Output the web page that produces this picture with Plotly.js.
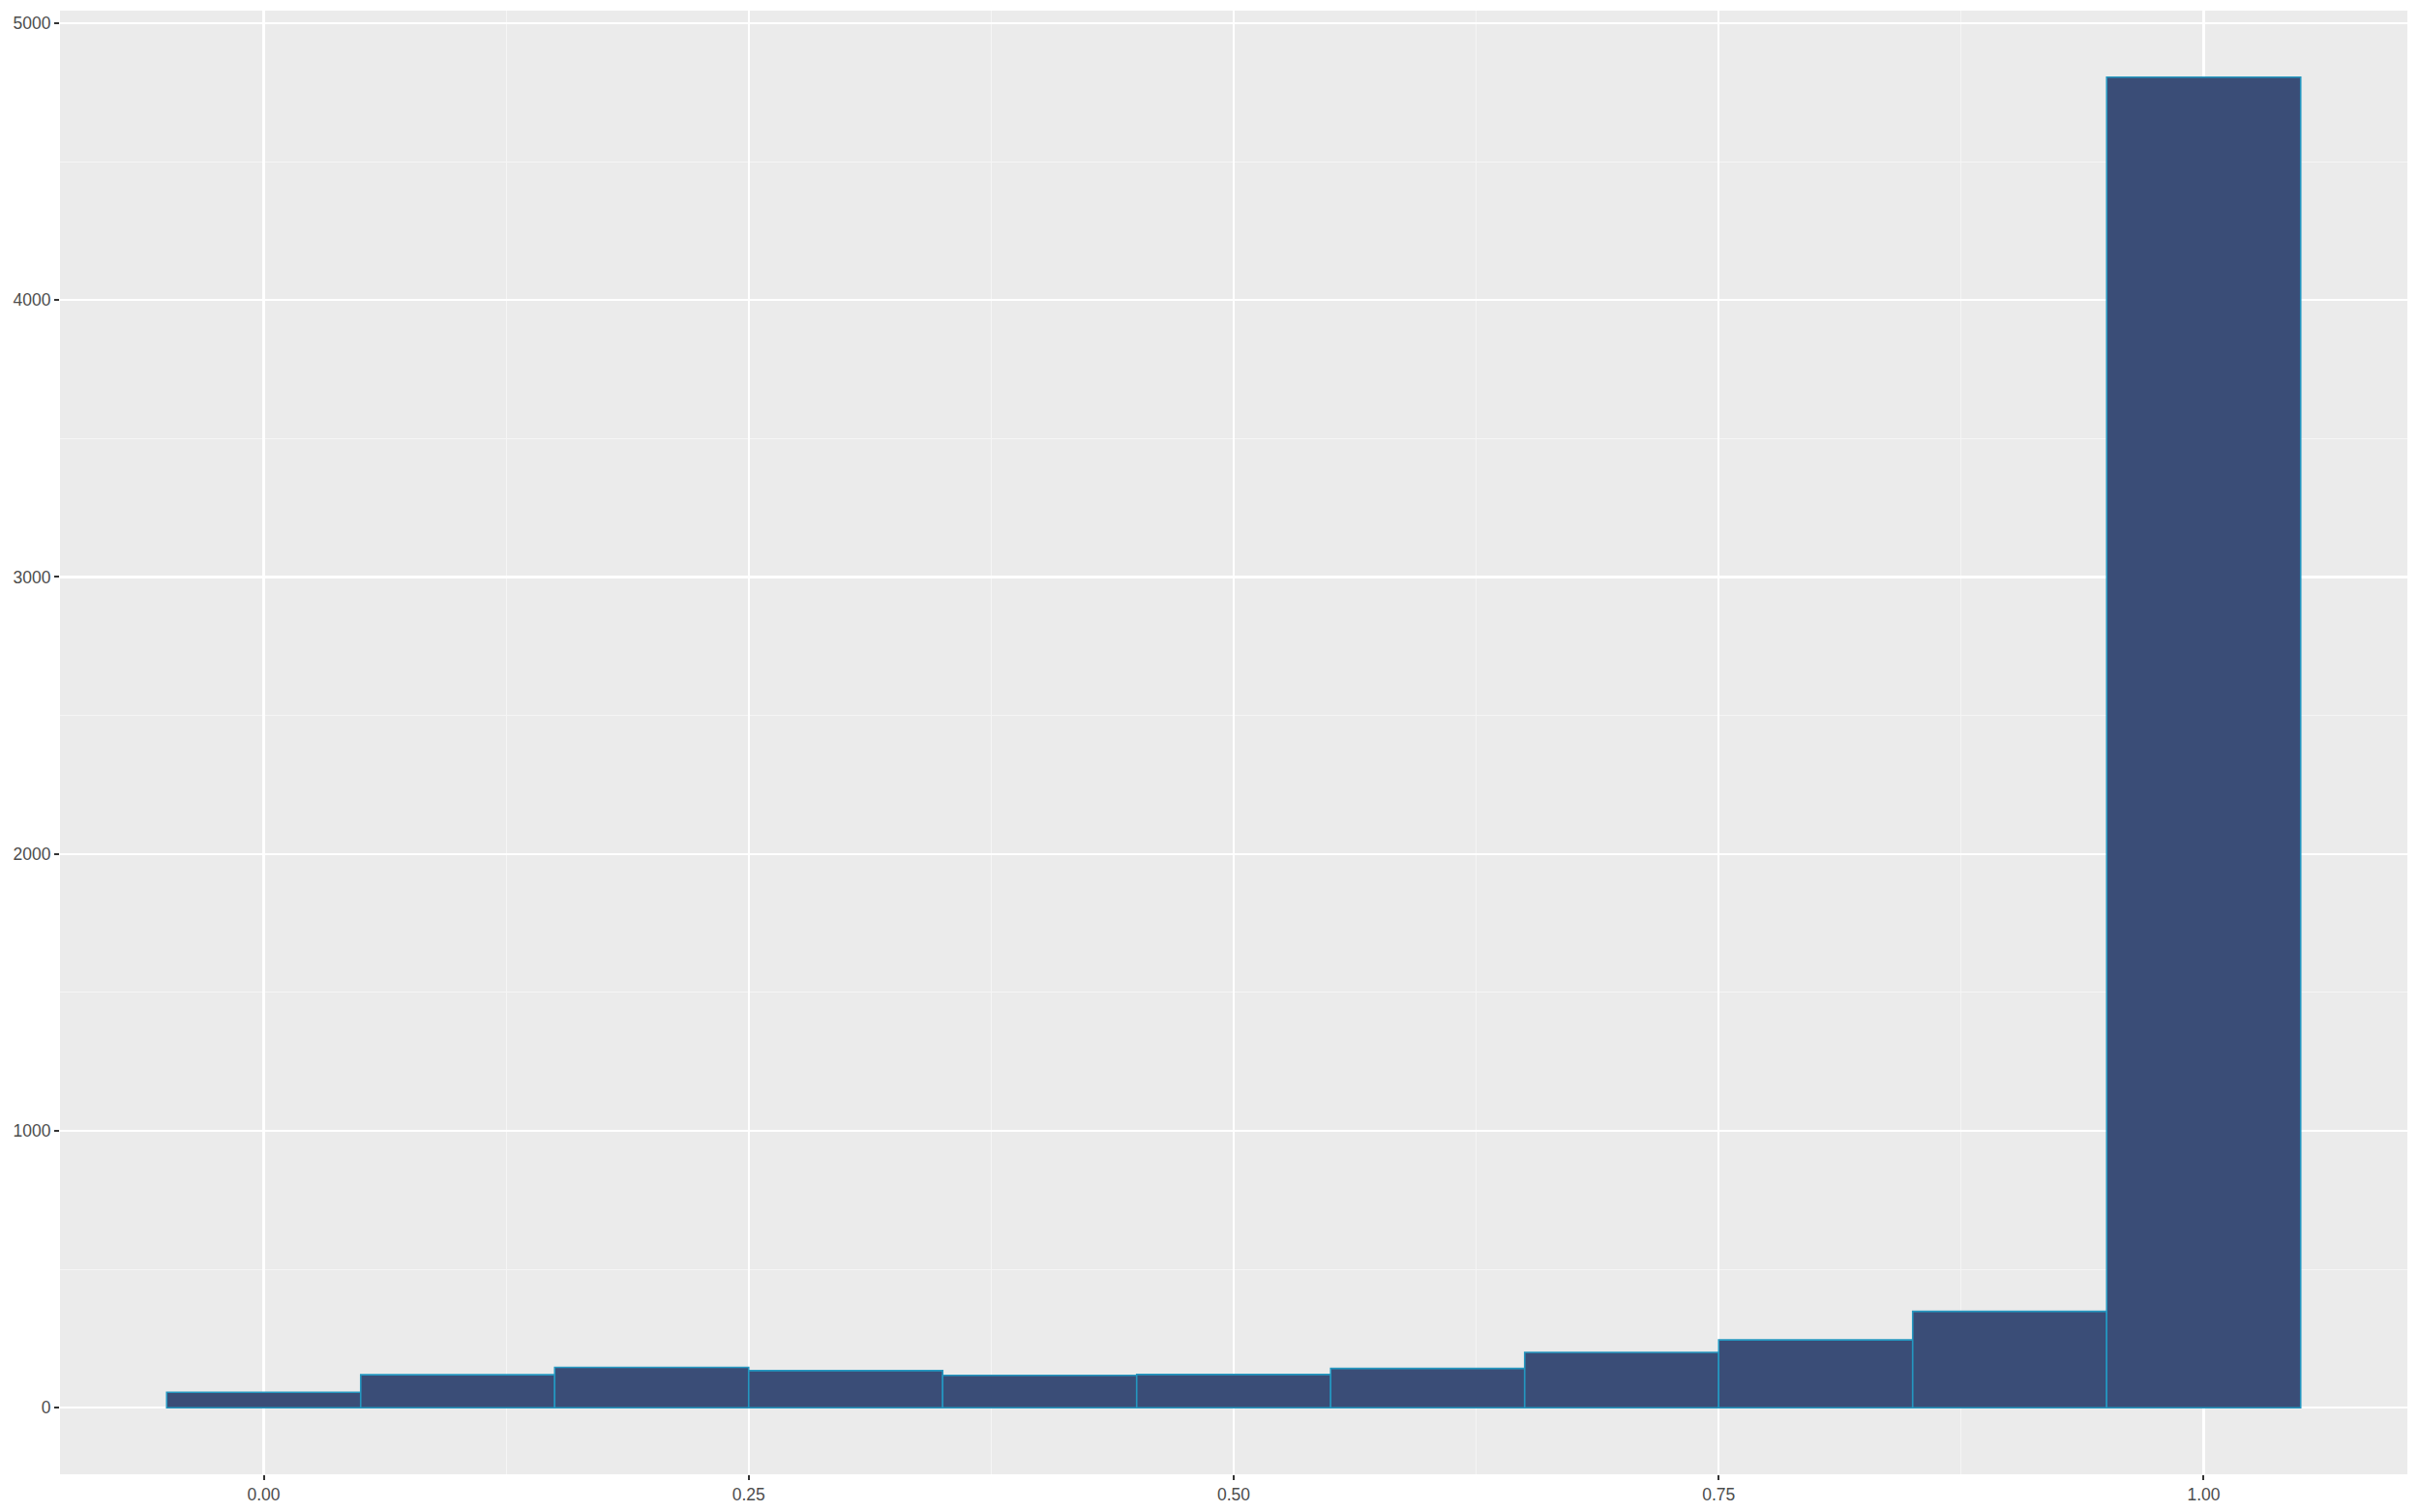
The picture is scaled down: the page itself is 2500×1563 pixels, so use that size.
<!DOCTYPE html>
<html>
<head>
<meta charset="utf-8">
<script src="https://cdn.plot.ly/plotly-3.0.1.min.js"></script>
<style>html,body{margin:0;padding:0;background:#fff;}#chart{width:2500px;height:1563px;}</style>
</head>
<body>
<div id="chart"></div>
<script>
// Histogram bins (centers) and counts
var binCenters = [0.0, 0.1, 0.2, 0.3, 0.4, 0.5, 0.6, 0.7, 0.8, 0.9, 1.0];
var counts = [56, 119, 146, 134, 117, 120, 142, 200, 245, 348, 4805];
var binWidth = 0.1;
var xTickVals = [0, 0.25, 0.5, 0.75, 1.0];
var xTickText = ["0.00", "0.25", "0.50", "0.75", "1.00"];
var yTickVals = [0, 1000, 2000, 3000, 4000, 5000];
var yTickText = ["0", "1000", "2000", "3000", "4000", "5000"];

var widths = binCenters.map(function(){ return binWidth; });
var ymax = Math.max.apply(null, counts);
var xmin = binCenters[0] - binWidth/2, xmax = binCenters[binCenters.length-1] + binWidth/2;
var xpad = (xmax - xmin) * 0.05, ypad = ymax * 0.05;

var trace = {
  type: 'bar',
  x: binCenters,
  y: counts,
  width: widths,
  marker: {color: '#3a4d77', line: {color: '#2497c0', width: 1.6}},
  hoverinfo: 'x+y'
};

var axisCommon = {
  showline: false,
  zeroline: false,
  ticks: 'outside',
  ticklen: 5,
  tickwidth: 2,
  tickcolor: '#333333',
  tickfont: {family: 'Liberation Sans, Arial, sans-serif', size: 17.5, color: '#4d4d4d'},
  showgrid: true,
  gridcolor: '#ffffff',
  gridwidth: 2.2
};

var layout = {
  width: 2500,
  height: 1563,
  margin: {l: 62, r: 12, t: 11, b: 39, pad: 0},
  paper_bgcolor: '#ffffff',
  plot_bgcolor: '#ebebeb',
  showlegend: false,
  bargap: 0,
  xaxis: Object.assign({}, axisCommon, {
    range: [xmin - xpad, xmax + xpad],
    tickmode: 'array',
    tickvals: xTickVals,
    ticktext: xTickText,
    minor: {tickmode: 'array', tickvals: [0.125, 0.375, 0.625, 0.875], showgrid: true, gridcolor: '#f5f5f5', gridwidth: 1.1, ticks: ''}
  }),
  yaxis: Object.assign({}, axisCommon, {
    range: [-ypad, ymax + ypad],
    tickmode: 'array',
    tickvals: yTickVals,
    ticktext: yTickText,
    minor: {tickmode: 'array', tickvals: [500, 1500, 2500, 3500, 4500], showgrid: true, gridcolor: '#f5f5f5', gridwidth: 1.1, ticks: ''}
  })
};

Plotly.newPlot('chart', [trace], layout, {displayModeBar: false, staticPlot: true});
</script>
</body>
</html>
